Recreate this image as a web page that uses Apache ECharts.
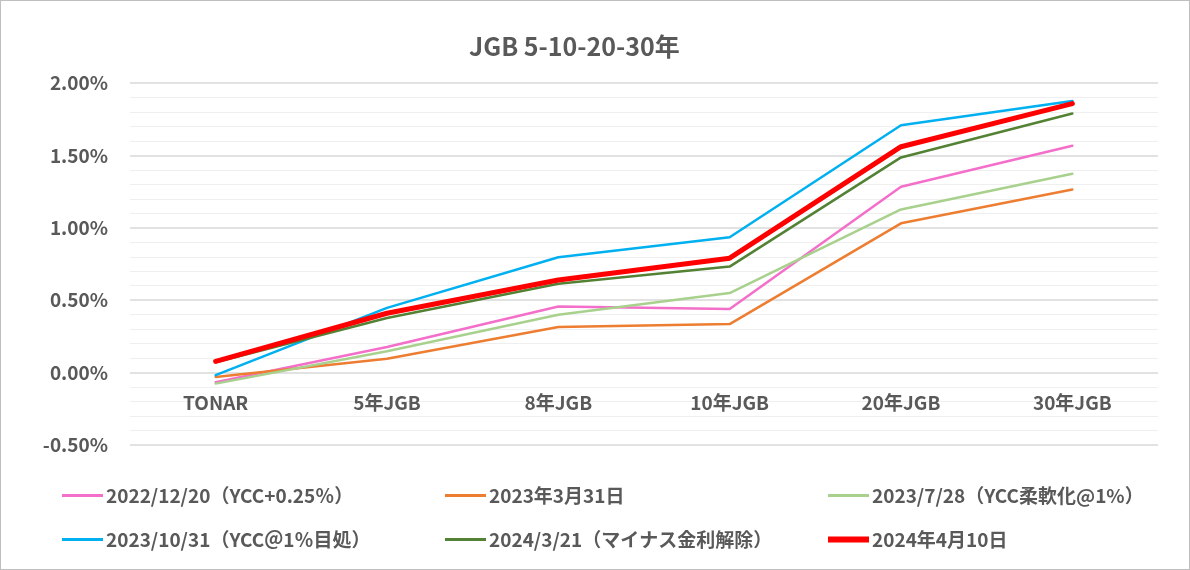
<!DOCTYPE html>
<html>
<head>
<meta charset="utf-8">
<script src="https://cdn.jsdelivr.net/npm/echarts@6/dist/echarts.min.js"></script>
<style>
  html, body { margin: 0; padding: 0; background: #fff; }
  #chart { width: 1190px; height: 570px; box-sizing: border-box; border: 1px solid #bfbfbf; }
</style>
</head>
<body>
<div id="chart"></div>
<script>
// 年限
var categories = ['TONAR', '5年JGB', '8年JGB', '10年JGB', '20年JGB', '30年JGB'];

// 各日付の利回り (%)
var d20221220 = [-0.067, 0.177, 0.457, 0.439, 1.284, 1.567];
var d20230331 = [-0.030, 0.096, 0.315, 0.335, 1.031, 1.265];
var d20230728 = [-0.076, 0.147, 0.400, 0.549, 1.127, 1.373];
var d20231031 = [-0.018, 0.447, 0.797, 0.935, 1.708, 1.876];
var d20240321 = [0.072, 0.377, 0.613, 0.732, 1.486, 1.789];
var d20240410 = [0.078, 0.410, 0.640, 0.790, 1.560, 1.858];

var names = [
    '2022/12/20（YCC+0.25％）',
    '2023年3月31日',
    '2023/7/28（YCC柔軟化@1%）',
    '2023/10/31（YCC＠1％目処）',
    '2024/3/21（マイナス金利解除）',
    '2024年4月10日'
];
var colors = ['#F36FC9', '#ED7D31', '#A9D18E', '#00B0F0', '#548235', '#FF0000'];
var widths = [2.5, 2.5, 2.5, 2.5, 2.5, 5];
var allData = [d20221220, d20230331, d20230728, d20231031, d20240321, d20240410];

// 目盛り
var yMin = -0.5, yMax = 2.0, yStep = 0.5;

var font = '"Noto Sans CJK JP", "Noto Sans", sans-serif';
var textColor = '#595959';

var gridTop = 82, gridBottom = 124, chartH = 570;

var chart = echarts.init(document.getElementById('chart'));

var series = allData.map(function (d, i) {
    return {
        name: names[i],
        type: 'line',
        data: d,
        symbol: 'none',
        z: i === 5 ? 10 : 2,
        lineStyle: { color: colors[i], width: widths[i], cap: 'round' },
        itemStyle: { color: colors[i] }
    };
});

// 凡例の位置 (3列 x 2行)
var legendPos = [[61, 485], [444, 485], [827, 485], [61, 529], [444, 529], [827, 529]];
var legends = names.map(function (n, i) {
    return {
        data: [n],
        left: legendPos[i][0],
        top: legendPos[i][1],
        padding: 0,
        icon: 'rect',
        itemWidth: 41,
        itemHeight: i === 5 ? 6 : 3,
        textStyle: { fontFamily: font, fontWeight: 'bold', fontSize: 19, color: textColor, padding: [0, 0, 0, -2] }
    };
});

// 0% の位置まで横軸を上げる
var plotH = chartH - gridTop - gridBottom;
var zeroOffset = -plotH * (0 - yMin) / (yMax - yMin);

var option = {
    animation: false,
    title: {
        text: 'JGB 5-10-20-30年',
        left: 468,
        top: 33,
        padding: 0,
        textStyle: { fontFamily: font, fontWeight: 'bold', fontSize: 25, color: textColor }
    },
    legend: legends,
    grid: { left: 129, right: 31, top: gridTop, bottom: gridBottom },
    xAxis: {
        type: 'category',
        data: categories,
        boundaryGap: true,
        offset: zeroOffset,
        axisLine: { show: false, onZero: false },
        axisTick: { show: false },
        axisLabel: { fontFamily: font, fontWeight: 'bold', fontSize: 19, color: textColor, margin: 21 }
    },
    yAxis: {
        type: 'value',
        min: yMin,
        max: yMax,
        interval: yStep,
        axisLine: { show: false },
        axisTick: { show: false },
        axisLabel: {
            fontFamily: font, fontWeight: 'bold', fontSize: 19, color: textColor, margin: 22,
            formatter: function (v) { return v.toFixed(2) + '%'; }
        },
        splitLine: { lineStyle: { color: '#d9d9d9', width: 1.5 } },
        minorTick: { show: false, splitNumber: 5 },
        minorSplitLine: { show: true, lineStyle: { color: '#efefef', width: 1 } }
    },
    series: series
};

chart.setOption(option);
</script>
</body>
</html>
